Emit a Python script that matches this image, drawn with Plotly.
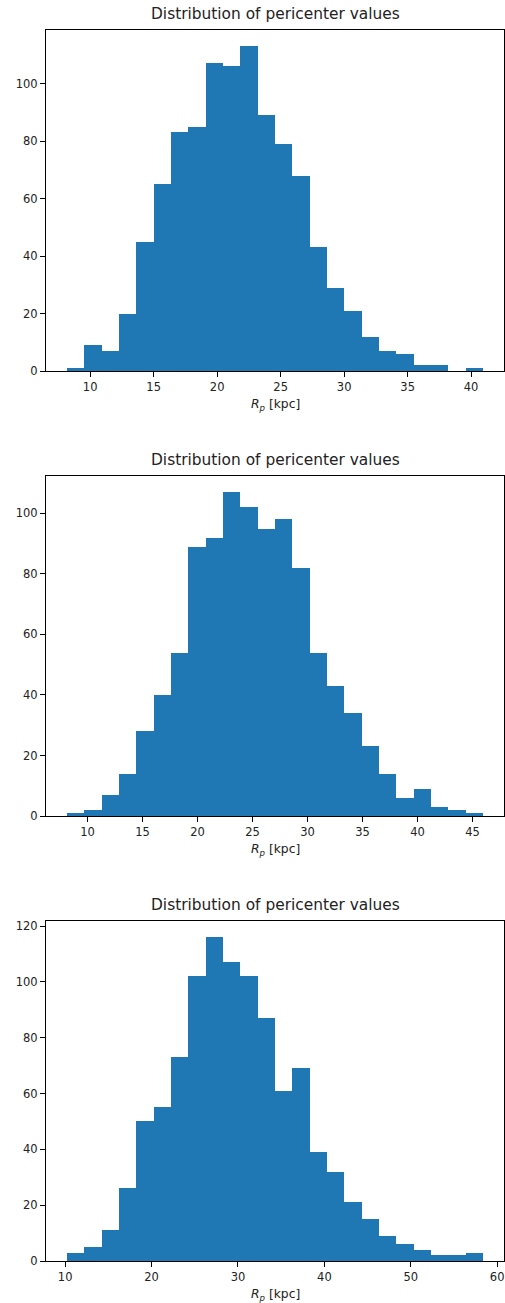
import numpy as np
import plotly.graph_objects as go

# ---- data ----
counts_1 = [1, 9, 7, 20, 45, 65, 83, 85, 107, 106, 113, 89, 79, 68, 43, 29, 21, 12, 7, 6, 2, 2, 0, 1]
range_1 = [8.16, 40.95]
counts_2 = [1, 2, 7, 14, 28, 40, 54, 89, 92, 107, 102, 95, 98, 82, 54, 43, 34, 23, 14, 6, 9, 3, 2, 1]
range_2 = [8.12, 45.97]
counts_3 = [3, 5, 11, 26, 50, 55, 73, 102, 116, 107, 102, 87, 61, 69, 39, 32, 21, 15, 9, 6, 4, 2, 2, 3]
range_3 = [10.19, 58.38]

xticks_1 = [10, 15, 20, 25, 30, 35, 40]
xticks_2 = [10, 15, 20, 25, 30, 35, 40, 45]
xticks_3 = [10, 20, 30, 40, 50, 60]
yticks_1 = [0, 20, 40, 60, 80, 100]
yticks_2 = [0, 20, 40, 60, 80, 100]
yticks_3 = [0, 20, 40, 60, 80, 100, 120]

title_text = "Distribution of pericenter values"
xlabel_text = "<i>R</i><sub><i>p</i></sub> [kpc]"

# ---- layout constants ----
W, H = 505, 1303
left_px, right_px = 46, 504
panels_px = [(30, 371), (476, 816), (921, 1261)]
color = "#1f77b4"
font = "DejaVu Sans"

fig = go.Figure()
datasets = [(counts_1, range_1, xticks_1, yticks_1),
            (counts_2, range_2, xticks_2, yticks_2),
            (counts_3, range_3, xticks_3, yticks_3)]

annotations = []
for i, ((counts, rng, xt, yt), (top, bot)) in enumerate(zip(datasets, panels_px)):
    n = len(counts)
    edges = np.linspace(rng[0], rng[1], n + 1)
    centers = (edges[:-1] + edges[1:]) / 2
    width = edges[1] - edges[0]
    sfx = "" if i == 0 else str(i + 1)
    fig.add_trace(go.Bar(x=centers, y=counts, width=width, marker=dict(color=color, line=dict(width=0)),
                         xaxis="x" + sfx, yaxis="y" + sfx, showlegend=False))
    span = rng[1] - rng[0]
    xr = [rng[0] - 0.05 * span, rng[1] + 0.05 * span]
    yr = [0, max(counts) * 1.05]
    ax_common = dict(showline=True, linecolor="black", linewidth=1, mirror=True,
                     ticks="outside", ticklen=5, tickcolor="black", tickwidth=1,
                     showgrid=False, zeroline=False, automargin=False,
                     tickfont=dict(family=font, size=11.5, color="#222222"))
    fig.update_layout(**{
        "xaxis" + sfx: dict(domain=[0, 1], range=xr, tickvals=xt,
                            anchor="y" + sfx, **ax_common),
        "yaxis" + sfx: dict(domain=[1 - bot / H, 1 - top / H], range=yr, tickvals=yt,
                            anchor="x" + sfx, **ax_common),
    })
    xc = 0.5
    annotations.append(dict(text=title_text, x=xc, y=1 - (top - 5) / H, xref="paper", yref="paper",
                            xanchor="center", yanchor="bottom", showarrow=False,
                            font=dict(family=font, size=15.4, color="#222222")))
    annotations.append(dict(text=xlabel_text, x=xc, y=1 - (bot + 34) / H, xref="paper", yref="paper",
                            xanchor="center", yanchor="middle", showarrow=False,
                            font=dict(family=font, size=12.3, color="#222222")))

fig.update_layout(width=W, height=H, margin=dict(l=left_px, r=W - right_px, t=0, b=0, autoexpand=False),
                  paper_bgcolor="white", plot_bgcolor="white", bargap=0,
                  annotations=annotations)

fig.write_html("out.html", config={"displayModeBar": False},
               post_script="document.body.style.margin='0';document.body.style.overflow='hidden';")
